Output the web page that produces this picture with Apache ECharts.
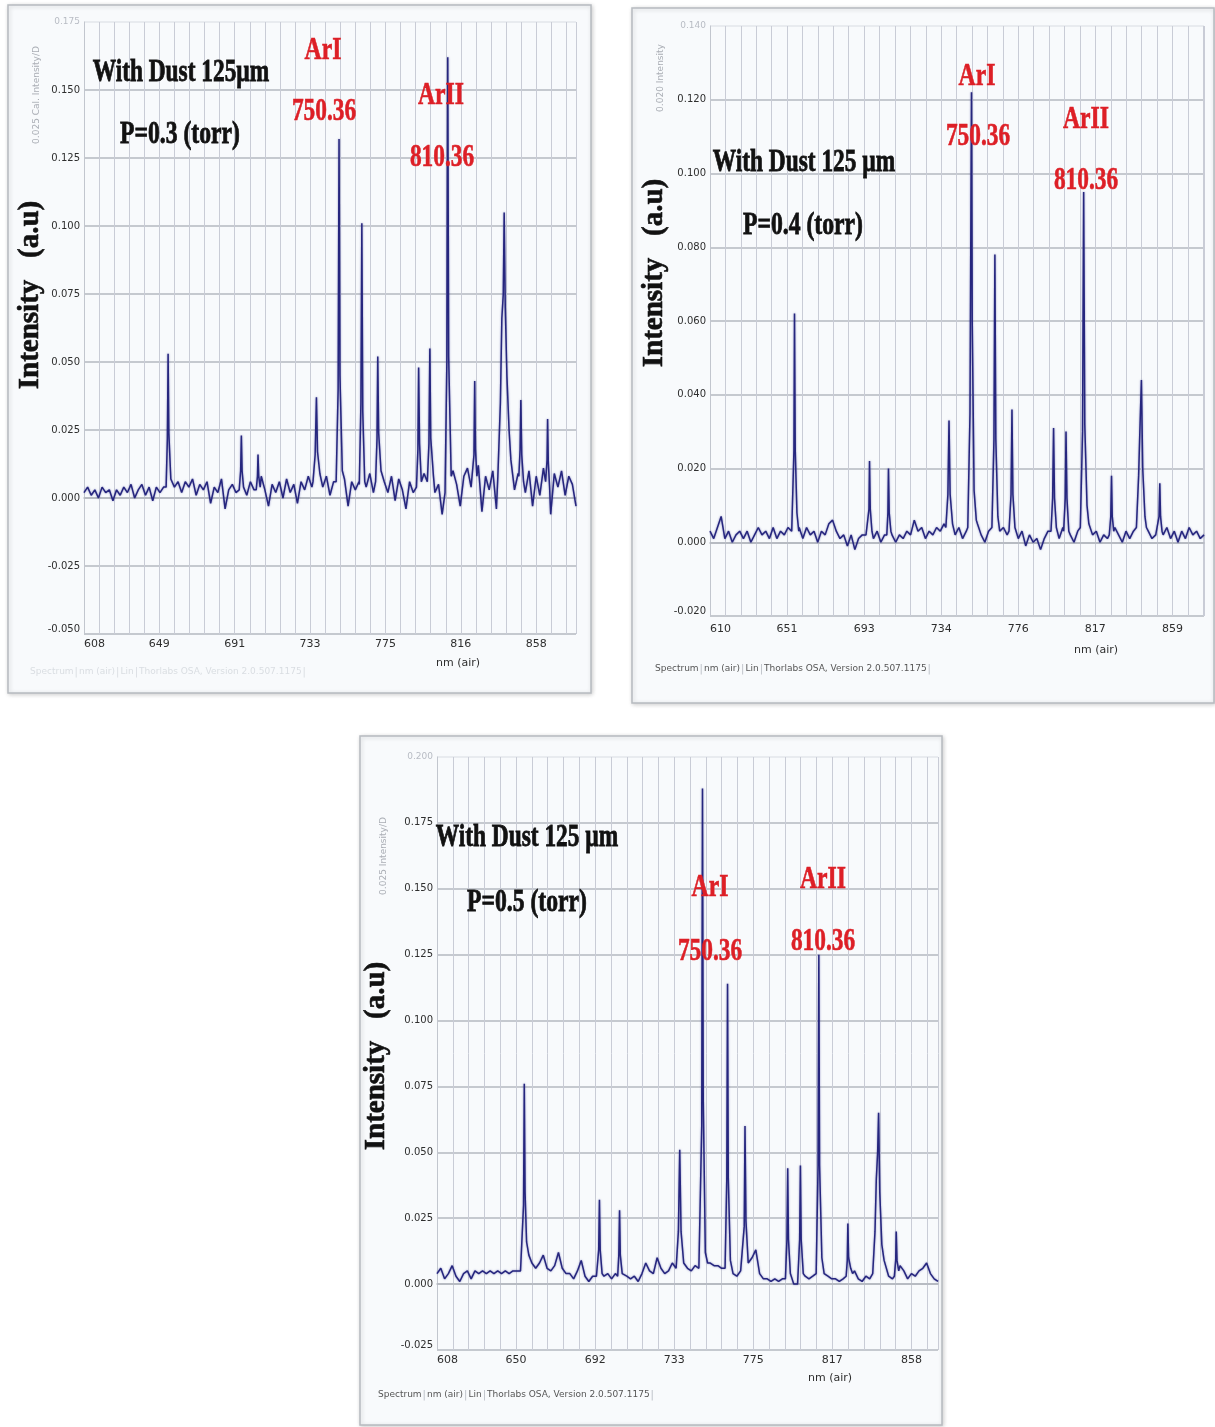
<!DOCTYPE html>
<html><head><meta charset="utf-8">
<script src="https://cdn.jsdelivr.net/npm/echarts@6/dist/echarts.min.js"></script>
<style>html,body{margin:0;padding:0;background:#fff}#c{width:1215px;height:1427px}</style>
</head><body><div id="c"></div>
<script>
// ---------------- DATA ----------------
const p1XLabels = ['608','649','691','733','775','816','858'];
const p2XLabels = ['610','651','693','734','776','817','859'];
const p3XLabels = ['608','650','692','733','775','817','858'];

const baseStep = 2;          // nm between baseline samples
const p1BaseStart = 608;
const p2BaseStart = 610;
const p3BaseStart = 608;

// baseline (noise floor) samples
const p1Baseline = [
 0.002,0.004,0.001,0.003,0.000,0.004,0.002,0.003,-0.001,0.003,
 0.001,0.004,0.002,0.005,0.000,0.003,0.005,0.001,0.004,-0.001,
 0.004,0.002,0.004,0.006,0.007,0.004,0.006,0.002,0.006,0.004,
 0.007,0.001,0.005,0.003,0.006,-0.002,0.004,0.002,0.007,-0.004,
 0.003,0.005,0.002,0.004,0.004,0.001,0.006,0.003,0.005,0.008,
 0.003,-0.003,0.005,0.002,0.006,0.000,0.007,0.002,0.005,-0.002,
 0.006,0.003,0.008,0.004,0.007,0.010,0.004,0.008,0.001,0.006,
 0.006,0.007,0.007,-0.003,0.006,0.003,0.006,0.007,0.004,0.009,
 0.002,0.007,0.012,0.006,0.002,0.008,-0.001,0.007,0.003,-0.004,
 0.006,0.002,0.005,0.006,0.009,0.007,0.008,0.002,0.005,-0.006,
 0.006,0.004,0.010,0.005,-0.003,0.008,0.011,0.004,0.006,0.012,
 -0.005,0.008,0.003,0.010,-0.004,0.008,0.010,0.009,0.014,0.003,
 0.009,0.007,0.002,0.010,-0.003,0.008,0.001,0.011,0.006,-0.006,
 0.009,0.004,0.010,0.001,0.008,0.005,-0.003
];
const p2Baseline = [
 0.003,0.001,0.004,0.007,0.001,0.003,0.000,0.002,0.003,0.001,
 0.003,0.000,0.002,0.004,0.002,0.003,0.001,0.004,0.001,0.003,
 0.002,0.004,0.003,0.003,0.004,0.001,0.004,0.002,0.003,0.000,
 0.003,0.002,0.005,0.006,0.003,0.001,0.002,-0.001,0.002,-0.002,
 0.001,0.002,0.002,0.002,0.001,0.003,0.000,0.002,0.002,0.002,
 0.000,0.002,0.001,0.003,0.002,0.006,0.003,0.004,0.001,0.003,
 0.002,0.004,0.003,0.005,0.004,0.004,0.002,0.004,0.001,0.003,
 0.003,0.004,0.005,0.002,0.000,0.003,0.003,0.003,0.001,0.004,
 0.002,0.003,0.004,0.001,0.003,-0.001,0.002,0.000,0.001,-0.002,
 0.001,0.003,0.003,0.005,0.001,0.004,0.003,0.002,0.000,0.003,
 0.003,0.003,0.006,0.002,0.003,0.000,0.002,0.001,0.002,0.004,
 0.002,0.000,0.003,0.001,0.003,0.003,0.003,0.006,0.003,0.001,
 0.002,0.002,0.002,0.004,0.001,0.003,0.000,0.003,0.001,0.004,
 0.002,0.003,0.001,0.002
];
const p3Baseline = [
 0.004,0.006,0.002,0.004,0.007,0.003,0.001,0.004,0.005,0.002,
 0.005,0.004,0.005,0.004,0.005,0.004,0.005,0.004,0.005,0.004,
 0.005,0.005,0.005,0.005,0.013,0.008,0.006,0.008,0.011,0.006,
 0.005,0.007,0.012,0.006,0.004,0.004,0.002,0.005,0.009,0.003,
 0.001,0.003,0.003,0.003,0.003,0.004,0.002,0.004,0.004,0.004,
 0.003,0.002,0.003,0.001,0.004,0.008,0.005,0.004,0.010,0.006,
 0.004,0.005,0.008,0.006,0.006,0.006,0.006,0.005,0.007,0.006,
 0.006,0.006,0.008,0.007,0.007,0.006,0.006,0.006,0.004,0.003,
 0.005,0.005,0.007,0.010,0.013,0.004,0.002,0.002,0.001,0.002,
 0.001,0.002,0.002,0.002,0.000,0.000,0.000,0.003,0.002,0.003,
 0.003,0.003,0.004,0.003,0.002,0.002,0.001,0.002,0.002,0.002,
 0.005,0.002,0.001,0.003,0.002,0.002,0.002,0.002,0.009,0.003,
 0.002,0.002,0.007,0.005,0.002,0.004,0.003,0.005,0.006,0.008,
 0.004,0.002,0.001
];

// emission lines: [nm, intensity] points
const p1Peaks = [
 [[653.4,0.004],[654.1,0.022],[654.5,0.053],[654.9,0.024],[655.8,0.010]],
 [[693.8,0.003],[694.6,0.010],[695.0,0.023],[695.4,0.010],[696.2,0.004]],
 [[703.2,0.003],[703.9,0.008],[704.2,0.016],[704.6,0.008],[705.4,0.004]],
 [[734.6,0.006],[735.8,0.016],[736.5,0.037],[737.1,0.017],[738.4,0.009]],
 [[747.4,0.006],[748.5,0.040],[749.0,0.132],[749.5,0.045],[750.8,0.010]],
 [[760.2,0.005],[761.1,0.035],[761.6,0.101],[762.1,0.032],[763.2,0.006]],
 [[769.2,0.006],[770.0,0.022],[770.4,0.052],[770.9,0.024],[772.2,0.010]],
 [[791.8,0.004],[792.6,0.018],[793.0,0.048],[793.5,0.020],[794.5,0.006]],
 [[797.8,0.006],[798.7,0.020],[799.2,0.055],[799.7,0.022],[801.2,0.008]],
 [[807.6,0.002],[808.6,0.050],[809.1,0.162],[809.6,0.052],[811.0,0.008]],
 [[822.8,0.004],[823.6,0.016],[824.0,0.043],[824.4,0.018],[825.2,0.008]],
 [[836.8,0.008],[838.2,0.035],[839.0,0.066],[839.8,0.075],[840.3,0.105],[840.9,0.070],[841.8,0.045],[843.0,0.025],[844.0,0.014]],
 [[848.4,0.008],[849.1,0.018],[849.5,0.036],[850.0,0.016],[851.0,0.006]],
 [[863.2,0.006],[864.0,0.014],[864.3,0.029],[864.7,0.013],[865.4,0.004]]
];
const p2Peaks = [
 [[654.6,0.003],[655.2,0.025],[655.5,0.062],[655.9,0.025],[656.8,0.008],[657.8,0.003]],
 [[695.0,0.002],[695.6,0.009],[695.9,0.022],[696.3,0.009],[697.2,0.003]],
 [[705.2,0.002],[705.8,0.008],[706.1,0.020],[706.5,0.008],[707.4,0.003]],
 [[737.0,0.004],[738.1,0.013],[738.7,0.033],[739.3,0.013],[740.6,0.005]],
 [[748.8,0.004],[750.0,0.035],[750.5,0.090],[750.8,0.122],[751.2,0.060],[752.2,0.014],[753.4,0.006]],
 [[761.8,0.004],[762.9,0.028],[763.4,0.078],[763.9,0.028],[765.0,0.007],[766.0,0.003]],
 [[771.0,0.003],[772.1,0.013],[772.6,0.036],[773.1,0.013],[774.2,0.004]],
 [[793.6,0.003],[794.5,0.012],[795.0,0.031],[795.5,0.012],[796.5,0.004]],
 [[800.4,0.003],[801.3,0.012],[801.7,0.030],[802.2,0.012],[803.2,0.003]],
 [[809.4,0.004],[810.6,0.030],[811.2,0.095],[811.8,0.032],[813.0,0.010],[814.0,0.005]],
 [[825.0,0.002],[825.8,0.007],[826.2,0.018],[826.6,0.007],[827.4,0.003]],
 [[839.6,0.004],[840.8,0.018],[841.4,0.029],[842.3,0.044],[843.0,0.020],[844.2,0.007],[845.0,0.004]],
 [[851.0,0.002],[851.8,0.007],[852.2,0.016],[852.6,0.007],[853.4,0.003]]
];
const p3Peaks = [
 [[652.8,0.005],[653.6,0.030],[654.0,0.076],[654.4,0.035],[655.2,0.016],[656.4,0.011]],
 [[692.6,0.003],[693.2,0.013],[693.6,0.032],[694.0,0.013],[695.0,0.004]],
 [[703.2,0.003],[703.8,0.011],[704.2,0.028],[704.6,0.011],[705.6,0.004]],
 [[734.0,0.006],[735.2,0.020],[735.9,0.051],[736.6,0.020],[738.0,0.008]],
 [[746.6,0.006],[747.5,0.060],[747.9,0.188],[748.3,0.070],[749.4,0.012],[750.6,0.008]],
 [[759.8,0.006],[760.7,0.040],[761.1,0.114],[761.5,0.040],[762.6,0.009]],
 [[769.0,0.005],[769.9,0.022],[770.3,0.060],[770.8,0.024],[772.0,0.008]],
 [[791.6,0.002],[792.4,0.017],[792.8,0.044],[793.2,0.017],[794.2,0.004]],
 [[798.2,0.003],[799.1,0.017],[799.5,0.045],[799.9,0.017],[801.0,0.004]],
 [[807.8,0.004],[808.8,0.045],[809.2,0.125],[809.6,0.045],[810.8,0.010],[811.8,0.005]],
 [[823.6,0.003],[824.2,0.009],[824.5,0.023],[824.9,0.010],[826.0,0.006],[827.0,0.004]],
 [[837.6,0.004],[838.8,0.020],[839.5,0.040],[840.2,0.050],[840.7,0.065],[841.3,0.035],[842.4,0.015],[843.6,0.009]],
 [[849.0,0.003],[849.7,0.009],[850.0,0.020],[850.4,0.009],[851.3,0.005]]
];

const titles = ['With Dust 125µm', 'With Dust 125 µm', 'With Dust 125 µm'];
const pressures = ['P=0.3 (torr)', 'P=0.4 (torr)', 'P=0.5 (torr)'];
const lineNames = ['ArI', 'ArII'];
const lineWavelengths = ['750.36', '810.36'];
const footerText = ['Spectrum', 'nm (air)', 'Lin', 'Thorlabs OSA, Version 2.0.507.1175'];
const yNames = ['0.025 Cal. Intensity/D', '0.020 Intensity', '0.025 Intensity/D'];

// ---------------- BUILD ----------------
function build(start, step, base, peaks) {
  let pts = base.map((v, i) => [start + i * step, v]);
  peaks.forEach(pk => {
    const a = pk[0][0], b = pk[pk.length - 1][0];
    pts = pts.filter(p => p[0] < a || p[0] > b).concat(pk);
  });
  pts.sort((u, v) => u[0] - v[0]);
  return pts;
}

const panels = [
  { grid: {left: 84, top: 22, width: 492, height: 612}, xmin: 608, xmax: 880, xstep: (858 - 608) / 30,
    xLabels: p1XLabels, ymin: -0.05, ymax: 0.175, yint: 0.025, xMargin: 5,
    data: build(p1BaseStart, baseStep, p1Baseline, p1Peaks) },
  { grid: {left: 710, top: 26, width: 494, height: 590}, xmin: 610, xmax: 876, xstep: (859 - 610) / 30,
    xLabels: p2XLabels, ymin: -0.02, ymax: 0.14, yint: 0.02, xMargin: 8,
    data: build(p2BaseStart, baseStep, p2Baseline, p2Peaks) },
  { grid: {left: 437, top: 757, width: 501, height: 593}, xmin: 608, xmax: 872, xstep: (858 - 608) / 30,
    xLabels: p3XLabels, ymin: -0.025, ymax: 0.2, yint: 0.025, xMargin: 5,
    data: build(p3BaseStart, baseStep, p3Baseline, p3Peaks) }
];

const labelFont = 'DejaVu Sans';
const grids = [], xAxes = [], yAxes = [], series = [];
panels.forEach((p, i) => {
  grids.push(Object.assign({containLabel: false, outerBoundsMode: 'none', show: false}, p.grid));
  xAxes.push({
    type: 'value', gridIndex: i, min: p.xmin, max: p.xmax, interval: p.xstep,
    axisLine: {show: true, lineStyle: {color: '#b3b7be', width: 1.5}},
    axisTick: {show: false},
    splitLine: {show: true, lineStyle: {color: '#c9ccd6', width: 1}},
    axisLabel: {
      show: true, margin: p.xMargin, fontSize: 11, fontFamily: labelFont, color: '#2e2e2e',
      alignMinLabel: 'left', showMaxLabel: false,
      formatter: (v) => {
        const k = Math.round((v - p.xmin) / p.xstep);
        if (Math.abs(v - (p.xmin + k * p.xstep)) > 0.05 || k % 5 !== 0) return '';
        return p.xLabels[k / 5] || '';
      }
    }
  });
  const nY = Math.round((p.ymax - p.ymin) / p.yint) + 1;
  const yCols = [];
  for (let k = 0; k < nY; k++) yCols.push(k === nY - 1 ? '#e3e6eb' : '#b5b9c1');
  yAxes.push({
    type: 'value', gridIndex: i, min: p.ymin, max: p.ymax, interval: p.yint,
    axisLine: {show: true, lineStyle: {color: '#c2c6ce', width: 1}},
    axisTick: {show: false},
    splitLine: {show: true, lineStyle: {color: yCols, width: 1.6}},
    axisLabel: {
      show: true, margin: 4, fontSize: 10, fontFamily: labelFont, color: '#2e2e2e',
      verticalAlignMinLabel: 'bottom',
      formatter: (v) => {
        const s = v.toFixed(3);
        return Math.abs(v - p.ymax) < 1e-9 ? '{f|' + s + '}' : s;
      },
      rich: {f: {color: '#b8bcc4', fontSize: 9, fontFamily: labelFont}}
    }
  });
  series.push({
    type: 'line', xAxisIndex: i, yAxisIndex: i, data: p.data, showSymbol: false, symbol: 'none',
    smooth: false, clip: true, animation: false,
    lineStyle: {color: '#26267e', width: 1.5, shadowBlur: 2, shadowColor: 'rgba(40,40,140,0.55)'}
  });
});

// ---------------- DECORATION ----------------
const serif = '"Liberation Serif", "Times New Roman", serif';
const frames = [[8, 5, 583, 688], [632, 8, 582, 695], [360, 736, 582, 689]];
const titlePos = [[181, 73], [804, 163], [527, 838]];
const pressPos = [[180, 135], [803, 226], [527, 903]];
const arIPos = [[323, 51, 324, 112], [977, 77, 978, 137], [710, 888, 710, 952]];
const arIIPos = [[441, 96, 442, 158], [1086, 120, 1086, 181], [823, 880, 823, 942]];
const intensityPos = [[31, 295], [655, 273], [377, 1056]];
const yNamePos = [[37, 95], [661, 78], [384, 856]];
const nmPos = [[458, 663], [1096, 650], [830, 1378]];

function txt(x, y, text, font, fill, opts, strokeW) {
  const st = {text: text, font: font, fill: fill, align: 'center', verticalAlign: 'middle',
              textAlign: 'center', textVerticalAlign: 'middle'};
  if (strokeW) { st.stroke = fill; st.lineWidth = strokeW; }
  return Object.assign({type: 'text', x: x, y: y, z: 100, style: st}, opts || {});
}

const g = [];
frames.forEach(f => g.push({
  type: 'rect', z: -5, shape: {x: f[0], y: f[1], width: f[2], height: f[3]},
  style: {fill: '#f8fafc', stroke: '#b7bbc0', lineWidth: 1.5,
          shadowBlur: 4, shadowColor: 'rgba(0,0,0,0.18)', shadowOffsetX: 1, shadowOffsetY: 1}
}));
for (let i = 0; i < 3; i++) {
  g.push(txt(titlePos[i][0], titlePos[i][1], titles[i], 'bold 32px ' + serif, '#111', {scaleX: 0.73}, 0.8));
  g.push(txt(pressPos[i][0], pressPos[i][1], pressures[i], 'bold 32px ' + serif, '#111', {scaleX: 0.74}, 0.8));
  g.push(txt(arIPos[i][0], arIPos[i][1], lineNames[0], 'bold 32px ' + serif, '#dd1f26', {scaleX: 0.74}, 0.6));
  g.push(txt(arIPos[i][2], arIPos[i][3], lineWavelengths[0], 'bold 32px ' + serif, '#dd1f26', {scaleX: 0.73}, 0.6));
  g.push(txt(arIIPos[i][0], arIIPos[i][1], lineNames[1], 'bold 32px ' + serif, '#dd1f26', {scaleX: 0.74}, 0.6));
  g.push(txt(arIIPos[i][2], arIIPos[i][3], lineWavelengths[1], 'bold 32px ' + serif, '#dd1f26', {scaleX: 0.73}, 0.6));
  g.push(txt(yNamePos[i][0], yNamePos[i][1], yNames[i], '9px ' + labelFont, '#a9adb4', {rotation: Math.PI / 2, z: 50}));
  g.push(txt(intensityPos[i][0], intensityPos[i][1], 'Intensity   (a.u)', 'bold 29px ' + serif, '#111', {rotation: Math.PI / 2}, 0.6));
  g.push(txt(nmPos[i][0], nmPos[i][1], 'nm (air)', '11px ' + labelFont, '#2e2e2e'));
}
// footers
const footStr = footerText[0] + '{s||}' + footerText[1] + '{s||}' + footerText[2] + '{s||}' + footerText[3] + '{s||}';
[[655, 669, '#555', '#b9bdc4'], [378, 1395, '#555', '#b9bdc4'], [30, 672, 'rgba(160,168,178,0.35)', 'rgba(160,168,178,0.35)']].forEach(ft => {
  g.push({
    type: 'text', x: ft[0], y: ft[1], z: 100,
    style: {text: footStr, font: '9px ' + labelFont, fill: ft[2], align: 'left', verticalAlign: 'middle',
            textAlign: 'left', textVerticalAlign: 'middle',
            rich: {s: {fill: ft[3], color: ft[3], font: '10px ' + labelFont, padding: [0, 1]}}}
  });
});

const chart = echarts.init(document.getElementById('c'), null, {renderer: 'canvas'});
chart.setOption({
  animation: false,
  backgroundColor: '#ffffff',
  grid: grids, xAxis: xAxes, yAxis: yAxes, series: series,
  graphic: {elements: g}
});
</script></body></html>
